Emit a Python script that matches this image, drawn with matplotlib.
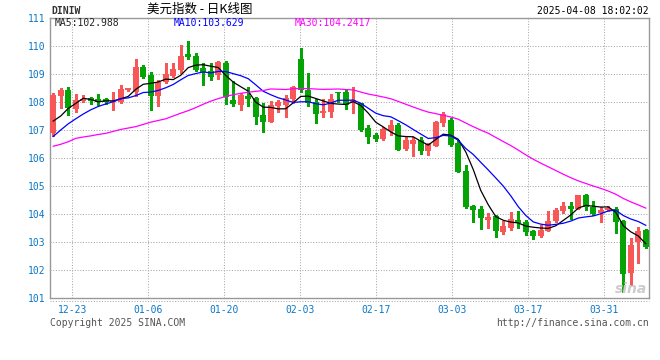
import matplotlib
matplotlib.use('Agg')
import matplotlib.pyplot as plt
from matplotlib.lines import Line2D
import numpy as np

# DINIW daily K, one candle per weekday from 2024-12-18 to 2025-04-08
opens = [106.91, 108.22, 108.43, 107.75, 108.05, 108.13, 108.11, 108.10, 108.00, 108.01,
         108.43, 108.35, 109.26, 108.98, 108.23, 108.70, 108.94, 109.14, 109.71, 109.66,
         109.22, 109.11, 108.95, 109.39, 108.07, 107.90, 108.22, 108.14, 107.53, 107.30,
         107.87, 107.90, 108.12, 109.54, 108.43, 108.00, 107.59, 107.66, 108.36, 108.34,
         107.96, 107.95, 107.06, 106.82, 106.68, 106.98, 107.18, 106.32, 106.50, 106.64,
         106.26, 106.44, 107.26, 107.36, 106.55, 105.54, 104.29, 104.17, 103.77, 103.92,
         103.36, 103.50, 103.80, 103.71, 103.38, 103.20, 103.41, 103.74, 104.10, 104.30,
         104.18, 104.67, 104.25, 104.04, 104.13, 104.18, 103.74, 101.90, 102.99, 103.44]
highs = [108.31, 108.51, 108.54, 108.28, 108.26, 108.17, 108.29, 108.16, 108.37, 108.60,
         108.51, 109.55, 109.33, 109.07, 108.79, 109.38, 109.41, 110.02, 110.18, 109.75,
         109.41, 109.38, 109.45, 109.45, 108.76, 108.31, 108.55, 108.17, 107.95, 108.05,
         108.07, 108.25, 108.57, 109.92, 109.02, 108.10, 108.10, 108.29, 108.37, 108.43,
         108.55, 107.98, 107.18, 106.91, 107.12, 107.36, 107.24, 106.76, 106.74, 106.76,
         106.53, 107.33, 107.66, 107.42, 106.64, 105.75, 104.33, 104.27, 104.05, 103.95,
         103.74, 104.06, 104.10, 103.80, 103.44, 103.62, 104.10, 104.21, 104.43, 104.43,
         104.69, 104.71, 104.45, 104.25, 104.30, 104.25, 103.80, 103.14, 103.52, 103.48]
lows = [106.79, 107.78, 107.55, 107.66, 108.01, 107.93, 107.90, 107.93, 107.72, 107.95,
        108.41, 108.22, 108.86, 107.73, 107.84, 108.69, 108.91, 109.02, 109.55, 109.10,
        108.59, 108.79, 108.82, 107.93, 107.84, 107.72, 107.84, 107.21, 106.94, 107.28,
        107.66, 107.48, 107.95, 108.37, 107.86, 107.25, 107.48, 107.48, 108.01, 107.76,
        107.61, 106.95, 106.55, 106.59, 106.66, 106.82, 106.27, 106.29, 106.07, 106.14,
        106.11, 106.44, 107.16, 106.44, 105.49, 104.21, 103.70, 103.46, 103.51, 103.17,
        103.29, 103.44, 103.50, 103.26, 103.12, 103.17, 103.38, 103.70, 104.04, 103.82,
        104.18, 104.15, 103.98, 103.71, 104.10, 103.32, 101.21, 101.48, 102.25, 102.80]
closes = [108.25, 108.43, 107.80, 108.07, 108.11, 108.05, 108.00, 107.99, 108.05, 108.47,
          108.49, 109.26, 108.89, 108.23, 108.70, 109.00, 109.18, 109.66, 109.60, 109.14,
          109.08, 108.91, 109.43, 108.19, 107.94, 108.26, 108.11, 107.48, 107.29, 107.90,
          107.99, 108.13, 108.55, 108.43, 107.95, 107.57, 107.69, 108.11, 108.31, 107.88,
          108.07, 107.00, 106.76, 106.68, 107.04, 107.18, 106.29, 106.64, 106.64, 106.25,
          106.49, 107.30, 107.57, 106.47, 105.51, 104.24, 104.15, 103.84, 103.91, 103.40,
          103.58, 103.83, 103.68, 103.35, 103.20, 103.44, 103.76, 104.15, 104.30, 104.18,
          104.67, 104.24, 104.00, 104.15, 104.21, 103.71, 101.84, 102.91, 103.41, 102.82]

# first points of each MA line (they need days before the window)
ma5_head = [107.32, 107.50, 107.77, 107.95]
ma10_head = [106.77, 107.00, 107.22, 107.40, 107.57, 107.72, 107.84, 107.93, 108.01]
ma30_head = [106.42, 106.49, 106.58, 106.70, 106.75, 106.79, 106.84, 106.88, 106.95, 107.02,
             107.07, 107.12, 107.20, 107.28, 107.34, 107.40, 107.50, 107.60, 107.69, 107.80,
             107.92, 108.03, 108.12, 108.20, 108.26, 108.31, 108.35, 108.38, 108.41]

tick_idx = [3, 13, 23, 33, 43, 53, 63, 73]
tick_labels = ['12-23', '01-06', '01-20', '02-03', '02-17', '03-03', '03-17', '03-31']
y_ticks = list(range(101, 112))

title = '美元指数 - 日K线图'
code = 'DINIW'
stamp = '2025-04-08 18:02:02'
ma_texts = ['MA5:102.988', 'MA10:103.629', 'MA30:104.2417']

RED = '#f75757'
GREEN = '#06a306'
BLUE = '#0a78c8'
GRID = '#aaaaaa'
FRAME = '#999999'

plt.rcParams['font.family'] = ['DejaVu Sans Mono']


def moving_avg(vals, n, head):
    out = list(head)
    for i in range(len(head), len(vals)):
        out.append(sum(vals[i - n + 1:i + 1]) / n)
    return out


W, H = 660, 360
fig = plt.figure(figsize=(W / 100, H / 100), dpi=100)
ax = fig.add_axes([50 / W, 1 - 298 / H, 599 / W, 280 / H])

x = np.arange(len(closes))
o = np.array(opens)
c = np.array(closes)
colors = np.where(c >= o, RED, GREEN)

ax.vlines(x, lows, highs, colors=colors, lw=0.8, zorder=2, antialiased=False)
ax.bar(x, np.maximum(np.abs(c - o), 0.025), bottom=np.minimum(o, c), width=0.8,
       color=colors, lw=0, zorder=3, antialiased=False)

ax.plot(x, moving_avg(closes, 5, ma5_head), color='black', lw=0.9, zorder=4)
ax.plot(x, moving_avg(closes, 10, ma10_head), color='#0000ff', lw=0.9, zorder=4)
ax.plot(x, moving_avg(closes, 30, ma30_head), color='#ff00ff', lw=0.9, zorder=4)

# date grid is spaced a bit wider than the candles on the original chart
tick_pos = [i * 76 / 75 - 0.5 for i in tick_idx]
ax.set_xlim(-0.43, 79.43)
ax.set_ylim(101, 111)
ax.set_xticks(tick_pos, tick_labels)
ax.set_yticks(y_ticks)
ax.tick_params(axis='x', length=0, pad=5, labelcolor=BLUE, labelsize=7)
ax.tick_params(axis='y', length=0, pad=3.2, labelcolor=BLUE, labelsize=7)

for yv in y_ticks[1:-1]:
    ax.axhline(yv, color=GRID, lw=0.75, ls=(0, (1, 1.6)), zorder=1)
for xv in tick_pos:
    ax.axvline(xv, color=GRID, lw=0.75, ls=(0, (1, 1.6)), zorder=1)

for s in ax.spines.values():
    s.set_color(FRAME)
    s.set_linewidth(1.0)

# legend row inside the plot
for txt, col, px in zip(ma_texts, ['#222222', '#0000ff', '#ff00ff'], [55, 174, 295]):
    fig.text(px / W, 1 - 23.5 / H, txt, color=col, fontsize=7, va='center', ha='left')

fig.text(51.5 / W, 1 - 11 / H, code, fontsize=7, weight='bold', color='#333333',
         va='center', ha='left')
fig.text(200 / W, 1 - 9.5 / H, title, fontsize=9, color='black', va='center',
         ha='center', family=['Noto Sans CJK SC', 'DejaVu Sans'])
fig.text(649 / W, 1 - 11 / H, stamp, fontsize=7, color='black', va='center', ha='right')

fig.text(50 / W, 1 - 323.5 / H, 'Copyright 2025 SINA.COM', fontsize=7, color='#555555',
         va='center', ha='left')
fig.text(649 / W, 1 - 323.5 / H, 'http://finance.sina.com.cn', fontsize=7, color='#555555',
         va='center', ha='right')

# dotted rule under the plot frame
fig.add_artist(Line2D([50 / W, 649 / W], [1 - 300.5 / H, 1 - 300.5 / H], color=GRID,
                      lw=0.75, ls=(0, (1, 1.6))))

# faint sina watermark
fig.text(647 / W, 1 - 289 / H, 'sina', fontsize=10, weight='bold', style='italic',
         color='#cccccc', va='center', ha='right', family='DejaVu Sans', zorder=5)

fig.savefig('out.png', dpi=100)
